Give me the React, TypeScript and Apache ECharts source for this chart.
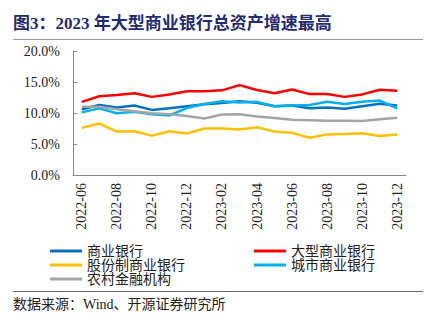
import React, { useEffect, useRef } from "react";
import * as echarts from "echarts";

const categories = [
  "2022-06", "2022-07", "2022-08", "2022-09", "2022-10", "2022-11", "2022-12",
  "2023-01", "2023-02", "2023-03", "2023-04", "2023-05", "2023-06", "2023-07",
  "2023-08", "2023-09", "2023-10", "2023-11", "2023-12",
];

const seriesNames = ["商业银行", "大型商业银行", "股份制商业银行", "城市商业银行", "农村金融机构"];

const commercial = [10.6, 11.3, 10.9, 11.2, 10.5, 10.75, 11.1, 11.4, 11.6, 11.9, 11.65, 11.1, 11.2, 10.75, 10.9, 10.7, 11.1, 11.5, 11.2];
const large = [11.8, 12.7, 12.9, 13.2, 12.6, 13.0, 13.5, 13.5, 13.65, 14.5, 13.7, 13.2, 13.8, 13.05, 13.05, 12.6, 13.0, 13.75, 13.6];
const jointStock = [7.6, 8.3, 7.0, 7.05, 6.35, 7.05, 6.7, 7.5, 7.5, 7.35, 7.7, 7.0, 6.8, 6.0, 6.55, 6.6, 6.75, 6.3, 6.55];
const cityBanks = [10.1, 10.75, 9.95, 10.2, 9.8, 9.6, 10.8, 11.45, 11.9, 11.7, 11.8, 11.1, 11.2, 11.3, 11.8, 11.45, 11.8, 12.0, 10.75];
const rural = [11.0, 11.0, 10.6, 10.3, 9.95, 9.8, 9.5, 9.1, 9.75, 9.8, 9.45, 9.2, 8.9, 8.85, 8.75, 8.75, 8.7, 9.0, 9.25];

const colors = ["#0070C0", "#FF0000", "#FFC000", "#00B0F0", "#A5A5A5"];
const allData = [commercial, large, jointStock, cityBanks, rural];

const titleText = "图3：2023 年大型商业银行总资产增速最高";
const sourceText = "数据来源：Wind、开源证券研究所";

const serif = "'Liberation Serif', 'Times New Roman', 'Noto Sans CJK SC', serif";

export default function App() {
  const ref = useRef<HTMLDivElement>(null);
  useEffect(() => {
    if (!ref.current) return;
    const chart = echarts.init(ref.current, undefined, { renderer: "svg" });
    const legendText = { fontFamily: serif, fontSize: 14, color: "#222", lineHeight: 14 };
    chart.setOption({
      animation: false,
      backgroundColor: "#fff",
      title: {
        text: titleText,
        left: 13,
        top: 15,
        textStyle: { fontFamily: serif, fontSize: 17, fontWeight: "bold", color: "#1f2d70" },
        padding: 0,
      },
      graphic: [
        { type: "line", shape: { x1: 13, y1: 39.5, x2: 423, y2: 39.5 }, style: { stroke: "#999", lineWidth: 1 } },
        { type: "line", shape: { x1: 13, y1: 291.5, x2: 423, y2: 291.5 }, style: { stroke: "#666", lineWidth: 1 } },
        {
          type: "text",
          left: 13,
          top: 297,
          style: { text: sourceText, font: `14px ${serif}`, fill: "#222" },
        },
      ],
      legend: [
        {
          data: [seriesNames[0], seriesNames[2], seriesNames[4]],
          orient: "vertical",
          left: 50,
          top: 244,
          itemWidth: 32,
          itemHeight: 3,
          itemGap: 0,
          icon: "rect",
          padding: 0,
          textStyle: legendText,
          selectedMode: false,
        },
        {
          data: [seriesNames[1], seriesNames[3]],
          orient: "vertical",
          left: 254,
          top: 244,
          itemWidth: 32,
          itemHeight: 3,
          itemGap: 0,
          icon: "rect",
          padding: 0,
          textStyle: legendText,
          selectedMode: false,
        },
      ],
      grid: { left: 73, right: 30, top: 51, bottom: 148, containLabel: false },
      xAxis: {
        type: "category",
        data: categories,
        boundaryGap: true,
        axisLine: { lineStyle: { color: "#888", width: 1 } },
        axisTick: { inside: true, length: 4, interval: 1, lineStyle: { color: "#888" } },
        axisLabel: { interval: 1, rotate: 90, margin: 8, fontFamily: serif, fontSize: 14, color: "#222" },
        splitLine: { show: false },
      },
      yAxis: {
        type: "value",
        min: 0,
        max: 20,
        interval: 5,
        axisLine: { show: true, lineStyle: { color: "#888", width: 1 } },
        axisTick: { show: true, inside: true, length: 4, lineStyle: { color: "#888" } },
        axisLabel: {
          margin: 13,
          fontFamily: serif,
          fontSize: 14,
          color: "#222",
          formatter: (v: number) => v.toFixed(1) + "%",
        },
        splitLine: { show: false },
      },
      series: seriesNames.map((name, i) => ({
        name,
        type: "line",
        data: allData[i],
        symbol: "none",
        lineStyle: { color: colors[i], width: 2.5 },
        itemStyle: { color: colors[i] },
        z: i === 1 ? 5 : 2,
      })),
    });
    return () => chart.dispose();
  }, []);
  return <div ref={ref} style={{ width: 436, height: 323, position: "absolute", left: 0, top: 0 }} />;
}
